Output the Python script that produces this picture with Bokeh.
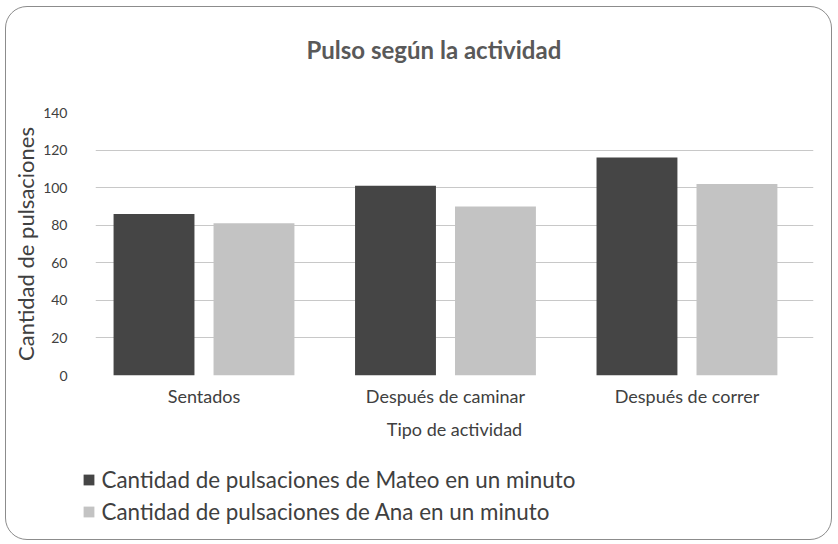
from bokeh.plotting import figure
from bokeh.layouts import column
from bokeh.models import (Range1d, FixedTicker, Legend, LegendItem,
                          ColumnDataSource, Title)
from bokeh.embed import file_html
from bokeh.resources import INLINE

# ---- data ----
chart_title = "Pulso según la actividad"
categories = ["Sentados", "Después de caminar", "Después de correr"]
mateo = [86, 101, 116]
ana = [81, 90, 102]
series_names = ["Cantidad de pulsaciones de Mateo en un minuto",
                "Cantidad de pulsaciones de Ana en un minuto"]
y_ticks = [0, 20, 40, 60, 80, 100, 120, 140]

FONT = "Lato"
TXT = "#404040"
C_MATEO = "#454545"
C_ANA = "#c3c3c3"

idx = list(range(len(categories)))
src = ColumnDataSource(dict(
    xm=[i - 0.207 for i in idx], xa=[i + 0.207 for i in idx],
    mateo=mateo, ana=ana))

p = figure(width=825, height=445, output_backend="svg", toolbar_location=None,
           x_range=Range1d(-0.4493, 2.524), y_range=Range1d(0, 140),
           min_border_left=89, min_border_right=18, min_border_top=105,
           min_border_bottom=77)
p.outline_line_color = None
p.background_fill_color = None
p.border_fill_color = None

p.vbar(x="xm", top="mateo", width=0.335, source=src, fill_color=C_MATEO,
       line_color=None)
p.vbar(x="xa", top="ana", width=0.335, source=src, fill_color=C_ANA,
       line_color=None)

# built-in title kept empty; real title stacked above a spacer
p.title.text = ""
p.title.text_font_size = "0px"
p.title.standoff = 0
p.add_layout(Title(text=" ", text_font_size="1px", standoff=46), "above")
p.add_layout(Title(text=chart_title, align="left", offset=211, standoff=0,
                   text_font=FONT, text_font_size="24px",
                   text_font_style="bold", text_color="#595959"), "above")

# axes
p.xaxis.ticker = FixedTicker(ticks=idx)
p.xaxis.major_label_overrides = {i: c for i, c in enumerate(categories)}
p.xaxis.major_label_text_font = FONT
p.xaxis.major_label_text_font_size = "18px"
p.xaxis.major_label_text_color = TXT
p.xaxis.major_tick_out = 0
p.xaxis.major_tick_in = 0
p.xaxis.major_label_standoff = 9
p.xaxis.axis_line_color = None
p.xaxis.major_tick_line_color = None
p.xaxis.minor_tick_line_color = None
p.xaxis.axis_label = "Tipo de actividad"
p.xaxis.axis_label_text_font = FONT
p.xaxis.axis_label_text_font_size = "18px"
p.xaxis.axis_label_text_font_style = "normal"
p.xaxis.axis_label_text_color = TXT
p.xaxis.axis_label_standoff = 8

p.yaxis.ticker = FixedTicker(ticks=y_ticks)
p.yaxis.major_label_text_font = FONT
p.yaxis.major_label_text_font_size = "14px"
p.yaxis.major_label_text_color = TXT
p.yaxis.major_tick_out = 0
p.yaxis.major_tick_in = 0
p.yaxis.major_label_standoff = 28
p.yaxis.axis_line_color = None
p.yaxis.major_tick_line_color = None
p.yaxis.minor_tick_line_color = None
p.yaxis.axis_label = "Cantidad de pulsaciones"
p.yaxis.axis_label_text_font = FONT
p.yaxis.axis_label_text_font_size = "22px"
p.yaxis.axis_label_text_font_style = "normal"
p.yaxis.axis_label_text_color = TXT
p.yaxis.axis_label_standoff = 1

p.xgrid.grid_line_color = None
p.ygrid.grid_line_color = "#c8c8c8"
p.ygrid.grid_line_width = 1

# legend figure below (its frame is aligned with the chart's frame,
# so it is shifted left to put the legend where the reference has it)
p2 = figure(width=825, height=87, output_backend="svg", toolbar_location=None,
            x_axis_location=None, y_axis_location=None,
            x_range=Range1d(10, 11), y_range=Range1d(1000, 1001), min_border=0,
            styles={"transform": "translateX(-21px)"})
p2.outline_line_color = None
p2.background_fill_color = None
p2.border_fill_color = None
p2.grid.visible = False
r1 = p2.scatter(x="xm", y="mateo", source=src, marker="square", size=0,
                fill_color=C_MATEO, line_color=None)
r2 = p2.scatter(x="xa", y="ana", source=src, marker="square", size=0,
                fill_color=C_ANA, line_color=None)
legend = Legend(items=[LegendItem(label=series_names[0], renderers=[r1]),
                       LegendItem(label=series_names[1], renderers=[r2])],
                location=(1, 14), orientation="vertical",
                glyph_width=27, glyph_height=27, label_standoff=-3,
                spacing=5, padding=0, margin=0,
                border_line_color=None, background_fill_alpha=0,
                label_text_font=FONT, label_text_font_size="22.4px",
                label_text_color=TXT)
p2.add_layout(legend, "center")

layout = column(p, p2, spacing=0,
                styles={"margin": "5.5px 0 0 4.5px",
                        "border": "1.5px solid #8c8c8c",
                        "border-radius": "22px"})

open("out.html", "w").write(file_html(layout, INLINE))
